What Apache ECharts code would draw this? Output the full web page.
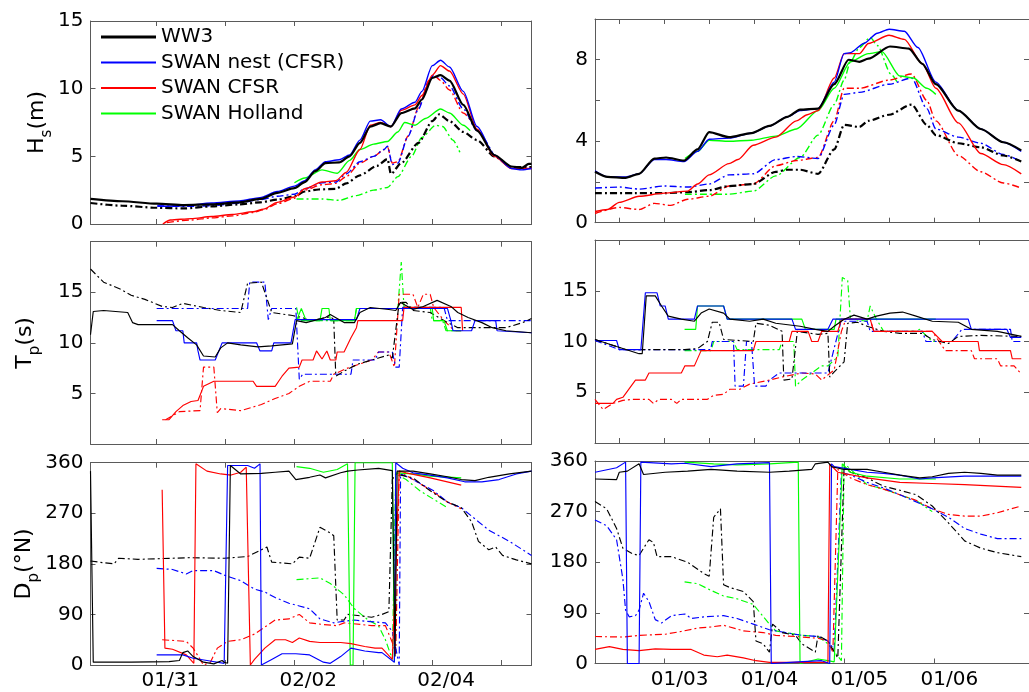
<!DOCTYPE html>
<html><head><meta charset="utf-8">
<script src="https://cdn.jsdelivr.net/npm/echarts@6/dist/echarts.min.js"></script>
<style>html,body{margin:0;padding:0;background:#fff}#c{width:1029px;height:692px}</style>
</head><body><div id="c"></div>
<script>
// ---------- tick / label values ----------
const xRangeLeft = [29.84, 36.24];      // days (Jan 29.84 .. Feb 5.24, counted as Jan days)
const xRangeRight = [2.06, 6.886];      // days of January
const xTicksLeft = [30.8, 31.8, 32.8, 33.8, 34.8, 35.8];
const xTicksRightHalf = [2.33, 2.83, 3.33, 3.83, 4.33, 4.83, 5.33, 5.83, 6.33];
const xTicksRightDay = [2.83, 3.83, 4.83, 5.83];
const xLabelsLeft = [31, 33, 35];       // 01/31, 02/02, 02/04
const xLabelsRight = [3, 4, 5, 6];      // 01/03 .. 01/06
const hsTicksLeft = [0, 5, 10, 15];
const hsTicksRight = [0, 2, 4, 6, 8, 10];
const hsLabelsRight = [0, 4, 8];
const tpTicks = [5, 10, 15];
const dpTicks = [0, 90, 180, 270, 360];
const models = ['WW3', 'SWAN nest (CFSR)', 'SWAN CFSR', 'SWAN Holland'];

// ---------- Hs, left ----------
const hsL_ww3 = [[29.84,1.85],[30.3,1.68],[30.8,1.5],[31.2,1.4],[31.6,1.45],[32.0,1.6],[32.3,1.85],[32.55,2.3],[32.8,2.65],[32.95,3.1],[33.1,3.9],[33.25,4.5],[33.45,4.55],[33.6,5.0],[33.75,6.0],[33.9,7.2],[34.05,7.45],[34.2,7.2],[34.35,8.2],[34.55,8.55],[34.65,9.2],[34.8,10.8],[34.92,11.0],[35.05,10.6],[35.25,8.8],[35.45,6.9],[35.7,5.1],[35.95,4.25],[36.1,4.15],[36.2,4.45],[36.24,4.45]];
const hsL_nest = [[30.81,1.3],[31.2,1.35],[31.6,1.55],[32.0,1.7],[32.3,1.95],[32.55,2.4],[32.8,2.8],[32.95,3.2],[33.1,4.0],[33.25,4.6],[33.45,4.75],[33.6,5.1],[33.75,6.2],[33.9,7.6],[34.05,7.7],[34.2,7.2],[34.35,8.5],[34.55,9.0],[34.65,9.8],[34.8,11.7],[34.92,12.1],[35.05,11.6],[35.25,9.8],[35.45,7.2],[35.7,5.1],[35.95,4.1],[36.1,4.0],[36.24,4.1]];
const hsL_cfsr = [[30.89,0.0],[31.0,0.3],[31.3,0.4],[31.6,0.55],[31.9,0.7],[32.2,0.9],[32.35,1.1],[32.55,1.6],[32.8,2.0],[32.95,2.6],[33.2,3.1],[33.4,3.2],[33.55,3.8],[33.75,5.5],[33.9,7.3],[34.05,7.5],[34.2,7.2],[34.35,8.4],[34.55,8.8],[34.65,9.5],[34.8,11.0],[34.92,11.7],[35.05,11.3],[35.25,9.6],[35.45,7.0],[35.7,5.0],[35.95,4.1],[36.24,4.1]];
const hsL_holl = [[32.8,3.05],[32.95,3.4],[33.2,4.0],[33.42,3.75],[33.6,4.7],[33.75,5.5],[33.95,5.9],[34.15,6.1],[34.3,6.8],[34.4,7.5],[34.55,7.3],[34.7,7.8],[34.92,8.5],[35.05,8.2],[35.25,7.3],[35.35,6.9]];
const hsL_ww3_dd = [[29.84,1.55],[30.3,1.35],[30.8,1.2],[31.2,1.15],[31.6,1.3],[32.0,1.45],[32.3,1.6],[32.55,1.8],[32.8,2.05],[32.95,2.4],[33.15,2.55],[33.4,2.6],[33.55,3.0],[33.75,3.6],[34.0,4.3],[34.15,4.8],[34.2,3.7],[34.35,4.5],[34.6,6.0],[34.8,7.6],[34.9,8.1],[35.05,7.6],[35.25,6.8],[35.45,6.2],[35.7,5.0],[35.95,4.2],[36.24,4.2]];
const hsL_nest_dd = [[30.81,1.35],[31.2,1.3],[31.6,1.35],[32.0,1.55],[32.3,1.8],[32.55,2.05],[32.8,2.2],[32.95,2.6],[33.2,3.05],[33.4,3.1],[33.55,3.7],[33.75,4.6],[33.95,5.0],[34.1,5.5],[34.15,5.75],[34.22,4.4],[34.3,4.5],[34.45,6.5],[34.6,8.5],[34.75,10.5],[34.82,11.0],[34.92,10.8],[35.05,10.2],[35.25,8.5],[35.45,6.9],[35.7,5.0]];
const hsL_cfsr_dd = [[30.95,0.1],[31.3,0.3],[31.6,0.45],[31.9,0.6],[32.2,0.85],[32.35,1.05],[32.55,1.5],[32.8,1.9],[32.95,2.5],[33.2,2.9],[33.4,3.0],[33.55,3.5],[33.75,4.5],[33.95,5.0],[34.1,5.5],[34.15,5.7],[34.22,4.5],[34.3,4.6],[34.45,6.5],[34.6,8.6],[34.75,10.6],[34.82,11.0],[34.92,10.6],[35.05,9.9],[35.25,8.2],[35.45,6.9]];
const hsL_holl_dd = [[32.83,1.85],[33.2,1.85],[33.45,1.75],[33.7,2.1],[33.95,2.5],[34.15,2.7],[34.3,3.5],[34.5,5.0],[34.65,6.4],[34.85,7.3],[34.95,7.2],[35.1,6.2],[35.2,5.3]];

// ---------- Hs, right ----------
const hsR_ww3 = [[2.06,2.5],[2.2,2.25],[2.4,2.2],[2.55,2.4],[2.72,3.15],[2.85,3.2],[3.05,3.05],[3.2,3.6],[3.33,4.45],[3.55,4.2],[3.8,4.4],[4.0,4.75],[4.2,5.2],[4.34,5.55],[4.54,5.6],[4.72,6.8],[4.88,8.0],[5.0,7.9],[5.1,8.05],[5.34,8.65],[5.55,8.55],[5.7,7.8],[5.85,6.8],[6.1,5.5],[6.35,4.6],[6.6,3.95],[6.8,3.55]];
const hsR_nest = [[2.06,2.55],[2.2,2.25],[2.4,2.25],[2.55,2.4],[2.72,3.1],[2.85,3.1],[3.05,3.0],[3.2,3.5],[3.33,4.1],[3.55,4.15],[3.8,4.4],[4.0,4.75],[4.2,5.2],[4.34,5.5],[4.54,5.6],[4.72,6.9],[4.83,8.3],[4.9,8.35],[5.05,8.8],[5.2,9.3],[5.33,9.5],[5.5,9.4],[5.65,8.6],[5.85,6.9],[6.1,5.5],[6.35,4.6],[6.6,3.95],[6.8,3.5]];
const hsR_cfsr = [[2.06,0.55],[2.2,0.65],[2.33,1.0],[2.55,1.3],[2.83,1.45],[3.09,1.55],[3.2,1.9],[3.33,2.35],[3.55,2.9],[3.65,3.1],[3.82,3.8],[4.07,4.2],[4.3,5.0],[4.42,5.3],[4.54,5.5],[4.72,7.1],[4.83,8.3],[4.92,8.3],[5.0,8.3],[5.1,8.8],[5.33,9.2],[5.5,9.0],[5.7,7.8],[5.85,6.6],[6.1,4.9],[6.35,3.4],[6.6,2.85],[6.8,2.4]];
const hsR_holl = [[3.06,3.15],[3.2,3.5],[3.33,4.05],[3.55,4.0],[3.8,4.05],[4.07,4.25],[4.3,4.6],[4.54,5.5],[4.72,6.6],[4.9,7.9],[5.1,8.3],[5.25,8.4],[5.45,7.2],[5.6,7.1],[5.75,6.6],[5.85,6.3]];
const hsR_ww3_dd = [[2.06,1.45],[2.5,1.45],[2.83,1.45],[3.09,1.5],[3.33,1.6],[3.55,1.8],[3.82,1.9],[4.07,2.5],[4.2,2.6],[4.34,2.6],[4.54,2.4],[4.72,3.6],[4.83,4.8],[5.0,4.7],[5.1,5.0],[5.33,5.3],[5.58,5.8],[5.75,4.8],[5.85,4.3],[6.1,3.9],[6.35,3.7],[6.6,3.3],[6.8,3.0]];
const hsR_nest_dd = [[2.06,1.7],[2.33,1.75],[2.55,1.65],[2.83,1.8],[3.09,1.75],[3.33,1.9],[3.55,2.35],[3.82,2.4],[4.07,3.1],[4.3,3.25],[4.54,3.15],[4.72,4.8],[4.83,6.3],[5.0,6.4],[5.33,6.8],[5.58,7.1],[5.75,5.6],[5.85,4.6],[6.1,4.2],[6.35,3.9],[6.6,3.35],[6.8,3.0]];
const hsR_cfsr_dd = [[2.06,0.45],[2.33,0.75],[2.55,0.65],[2.72,0.95],[2.9,0.85],[3.09,1.15],[3.33,1.3],[3.55,1.8],[3.82,1.9],[4.07,2.8],[4.3,3.05],[4.54,3.2],[4.72,5.0],[4.83,6.6],[5.0,6.6],[5.33,7.0],[5.58,7.3],[5.75,6.0],[5.85,5.0],[6.1,3.3],[6.35,2.5],[6.6,1.95],[6.8,1.7]];
const hsR_holl_dd = [[3.06,1.4],[3.3,1.4],[3.55,1.4],[3.82,1.55],[4.07,2.3],[4.34,3.2],[4.54,4.3],[4.72,5.8],[4.83,7.0],[4.9,7.9],[5.0,8.6],[5.12,9.1],[5.2,8.7],[5.35,7.3],[5.42,6.9]];

// ---------- Tp, left ----------
const tpL_ww3 = [[29.84,10.8],[29.88,13.1],[30.03,13.2],[30.38,13.0],[30.45,12.0],[30.53,11.8],[31.03,11.8],[31.13,11.2],[31.25,10.5],[31.38,9.8],[31.48,8.7],[31.65,8.6],[31.73,9.5],[31.83,10.0],[32.02,9.8],[32.27,9.6],[32.47,9.7],[32.77,9.9],[32.83,12.2],[32.97,12.0],[33.25,12.5],[33.32,12.8],[33.52,12.0],[33.67,12.0],[33.75,13.0],[33.9,13.5],[34.17,13.3],[34.27,13.2],[34.34,14.0],[34.52,13.3],[34.67,13.6],[34.87,14.2],[35.07,13.6],[35.17,13.0],[35.32,12.5],[35.52,12.0],[35.67,11.5],[35.87,11.2],[36.24,11.0]];
const tpL_nest = [[30.80,12.2],[31.03,12.2],[31.08,11.2],[31.18,11.2],[31.2,10.0],[31.38,10.0],[31.4,9.2],[31.43,8.3],[31.65,8.3],[31.75,10.0],[32.25,10.0],[32.3,9.2],[32.47,9.2],[32.5,10.0],[32.75,10.0],[32.81,12.3],[33.7,12.3],[33.75,13.4],[35.02,13.4],[35.07,12.2],[35.1,11.2],[35.37,11.2],[35.42,12.2],[35.72,12.2],[35.74,11.2],[36.24,11.0]];
const tpL_cfsr = [[30.88,2.4],[30.98,2.4],[31.08,3.2],[31.18,3.8],[31.3,4.2],[31.4,4.3],[31.48,5.7],[31.63,6.2],[32.2,6.2],[32.25,5.7],[32.52,5.7],[32.57,6.2],[32.62,6.7],[32.72,7.5],[32.87,7.6],[32.91,8.3],[33.07,8.3],[33.12,9.2],[33.2,8.4],[33.27,9.2],[33.32,8.3],[33.4,8.3],[33.42,9.1],[33.52,9.1],[33.62,10.5],[33.7,11.5],[33.72,12.2],[34.37,12.2],[34.39,13.5],[35.22,13.5],[35.24,11.2]];
const tpL_holl = [[32.83,12.2],[32.9,13.4],[32.97,12.2],[33.17,12.2],[33.2,13.4],[33.3,13.4],[33.32,12.2],[33.67,12.2],[33.7,13.4],[34.8,13.4],[34.82,12.2],[34.97,12.2],[35.02,11.2],[35.22,11.2]];
const tpL_ww3_dd = [[29.84,17.3],[30.03,16.0],[30.28,15.3],[30.43,14.7],[30.63,14.3],[30.88,13.6],[31.03,13.5],[31.18,13.9],[31.48,13.5],[31.73,13.2],[32.02,13.0],[32.12,15.9],[32.32,16.0],[32.47,13.0],[32.77,12.7],[32.92,12.5],[33.02,12.2],[33.27,12.5],[33.32,12.6],[33.37,12.3],[33.4,6.7],[33.52,7.2],[33.72,7.9],[34.02,8.5],[34.17,8.8],[34.22,8.5],[34.32,14.0],[34.42,14.0],[34.52,13.2],[34.77,13.0],[34.97,12.2],[35.17,11.5],[35.52,11.5],[35.87,11.5],[36.11,12.0],[36.24,12.4]];
const tpL_nest_dd = [[30.80,13.4],[32.12,13.4],[32.15,16.0],[32.37,16.0],[32.42,12.3],[32.47,13.4],[32.82,13.4],[32.87,6.4],[32.92,6.9],[33.62,6.9],[33.65,8.3],[33.97,8.3],[34.02,9.1],[34.22,9.1],[34.27,7.6],[34.32,7.6],[34.37,13.5],[34.97,13.5],[35.02,12.2],[36.24,12.2]];
const tpL_cfsr_dd = [[30.93,2.4],[31.13,3.2],[31.43,3.3],[31.48,7.6],[31.63,7.6],[31.68,3.1],[31.73,3.5],[32.02,3.3],[32.32,3.9],[32.52,4.5],[32.72,5.0],[32.87,5.7],[33.02,6.2],[33.32,6.2],[33.37,6.9],[33.57,7.5],[33.92,8.3],[34.02,9.1],[34.17,9.1],[34.25,7.6],[34.32,14.8],[34.52,14.8],[34.59,13.5],[34.67,14.8],[34.77,14.8],[34.82,13.5],[34.97,12.2],[35.12,11.2],[35.22,11.2]];
const tpL_holl_dd = [[32.83,13.5],[32.87,12.2],[33.67,12.2],[33.7,13.4],[34.3,13.4],[34.35,18.0],[34.39,13.5],[34.77,13.5],[34.8,12.2],[34.95,12.2],[35.0,11.2],[35.22,11.2]];

// ---------- Tp, right ----------
const tpR_ww3 = [[2.06,10.2],[2.30,9.5],[2.55,8.8],[2.585,8.8],[2.63,14.5],[2.73,14.5],[2.80,13.5],[2.875,12.5],[3.02,12.2],[3.165,12.0],[3.24,12.8],[3.33,13.2],[3.49,12.8],[3.56,12.2],[3.78,12.0],[3.93,12.2],[4.07,11.8],[4.34,11.5],[4.51,11.2],[4.65,11.0],[4.72,11.5],[4.83,12.2],[4.94,12.6],[5.085,12.2],[5.19,12.5],[5.34,12.8],[5.48,12.9],[5.63,12.5],[5.81,12.0],[6.10,11.9],[6.245,11.2],[6.535,11.0],[6.8,10.5]];
const tpR_nest = [[2.06,10.1],[2.30,10.1],[2.33,9.2],[2.57,9.2],[2.62,14.8],[2.75,14.8],[2.785,13.5],[2.84,13.5],[2.875,12.2],[3.165,12.2],[3.20,13.5],[3.49,13.5],[3.53,12.2],[4.25,12.2],[4.29,11.2],[4.65,11.2],[4.705,12.2],[6.21,12.2],[6.245,11.2],[6.64,11.2],[6.68,10.4],[6.8,10.4]];
const tpR_cfsr = [[2.06,3.9],[2.26,3.9],[2.30,4.3],[2.37,4.5],[2.51,6.2],[2.62,6.2],[2.66,6.9],[3.02,6.9],[3.06,7.6],[3.165,7.6],[3.24,9.1],[3.82,9.1],[3.85,10.0],[4.22,10.0],[4.25,11.0],[4.43,11.0],[4.47,10.0],[4.54,10.0],[4.58,11.0],[4.76,11.0],[4.80,12.2],[5.12,12.2],[5.16,11.0],[5.81,11.0],[5.92,10.0],[6.32,10.0],[6.335,9.1],[6.68,9.1],[6.70,8.3],[6.8,8.3]];
const tpR_holl = [[3.056,11.2],[3.18,11.2],[3.20,13.5],[3.49,13.5],[3.53,12.2],[4.36,12.2],[4.40,11.2],[4.72,11.2],[4.74,12.2],[5.85,12.2]];
const tpR_ww3_dd = [[2.06,10.2],[2.40,9.2],[3.056,9.2],[3.20,9.3],[3.31,10.0],[3.364,11.9],[3.44,11.9],[3.49,10.2],[3.82,10.0],[3.85,11.8],[4.0,11.6],[4.14,11.0],[4.16,6.2],[4.25,6.3],[4.31,11.0],[4.54,10.7],[4.65,10.8],[4.67,6.5],[4.72,7.0],[4.83,8.0],[4.87,11.8],[4.98,11.9],[5.085,11.5],[5.27,11.0],[5.45,10.8],[5.70,10.8],[5.81,10.2],[5.99,9.8],[6.10,10.5],[6.35,10.6],[6.8,10.5]];
const tpR_nest_dd = [[2.06,10.1],[2.33,9.2],[3.346,9.2],[3.364,10.0],[3.60,10.0],[3.618,5.6],[3.71,5.6],[3.745,10.0],[3.80,10.0],[3.835,5.6],[3.96,5.6],[4.0,6.2],[4.11,6.9],[4.65,6.9],[4.796,12.0],[5.085,12.0],[5.12,11.0],[5.70,11.0],[5.74,10.0],[6.03,10.0],[6.14,11.2],[6.68,11.2],[6.70,10.0],[6.8,10.0]];
const tpR_cfsr_dd = [[2.06,4.3],[2.15,3.3],[2.26,3.9],[2.37,4.2],[2.48,4.3],[2.66,4.3],[2.71,3.9],[2.77,4.3],[2.91,4.3],[2.97,3.9],[3.02,4.3],[3.31,4.3],[3.38,4.7],[3.49,4.8],[3.56,5.3],[3.67,5.3],[3.78,5.8],[4.0,6.2],[4.14,6.5],[4.36,6.9],[4.51,6.8],[4.58,6.2],[4.72,7.2],[4.80,11.0],[4.85,12.2],[5.12,12.2],[5.16,11.0],[5.81,11.0],[5.955,9.1],[6.245,9.1],[6.28,8.3],[6.535,8.3],[6.57,7.6],[6.72,7.6],[6.8,6.8]];
const tpR_holl_dd = [[3.056,9.1],[3.35,9.1],[3.38,10.0],[3.60,10.0],[3.64,9.2],[4.11,9.2],[4.14,10.0],[4.27,10.0],[4.29,5.6],[4.36,6.2],[4.47,6.9],[4.58,7.6],[4.65,7.6],[4.76,8.5],[4.81,16.3],[4.87,16.0],[4.90,12.2],[5.085,12.0],[5.12,13.5],[5.19,12.2],[5.27,11.0],[5.63,11.0],[5.67,11.2],[5.81,10.0],[5.85,10.0]];

// ---------- Dp, left ----------
const dpL_ww3 = [[29.84,345],[29.88,5],[30.43,5],[30.45,7],[30.98,6],[31.13,8],[31.18,22],[31.25,25],[31.33,15],[31.48,5],[31.63,2],[31.75,8],[31.78,5],[31.83,3],[31.87,355],[32.02,340],[32.32,341],[32.52,343],[32.72,345],[32.82,330],[33.02,334],[33.17,338],[33.25,333],[33.47,342],[33.57,345],[33.72,347],[34.02,350],[34.22,346],[34.26,15],[34.29,345],[34.52,345],[34.77,340],[35.02,335],[35.22,330],[35.42,328],[35.62,334],[35.92,340],[36.24,345]];
const dpL_nest = [[30.80,18],[31.18,18],[31.33,12],[31.53,8],[31.78,3],[31.83,355],[32.12,355],[32.22,350],[32.30,358],[32.32,0],[32.47,10],[32.62,20],[32.82,20],[33.02,18],[33.22,5],[33.32,3],[33.47,15],[33.62,30],[33.82,25],[34.02,22],[34.07,22],[34.25,5],[34.27,360],[34.37,350],[34.52,342],[34.77,338],[35.02,333],[35.27,326],[35.52,326],[35.77,330],[36.02,340],[36.24,345]];
const dpL_cfsr = [[30.88,312],[30.92,30],[31.03,28],[31.23,18],[31.34,3],[31.37,358],[31.53,345],[31.73,340],[31.88,338],[32.02,343],[32.10,352],[32.16,0],[32.22,10],[32.37,30],[32.52,45],[32.67,45],[32.77,40],[32.87,48],[33.02,42],[33.17,40],[33.47,40],[33.62,38],[33.82,33],[33.97,30],[34.07,30],[34.22,10],[34.32,345],[34.42,342],[34.77,333],[35.22,320]];
const dpL_holl = [[32.83,353],[33.02,350],[33.22,343],[33.42,348],[33.57,358],[33.61,0],[33.65,0],[33.68,360],[34.22,360],[34.25,5],[34.27,342],[34.52,340],[34.77,336],[35.22,333]];
const dpL_ww3_dd = [[29.84,185],[30.03,182],[30.18,180],[30.25,190],[30.53,188],[31.03,190],[31.28,191],[31.78,190],[32.12,193],[32.32,205],[32.40,210],[32.47,183],[32.77,180],[32.87,192],[33.02,190],[33.17,245],[33.32,235],[33.37,230],[33.42,80],[33.52,80],[33.57,90],[33.72,88],[33.92,85],[34.07,90],[34.17,95],[34.22,330],[34.27,340],[34.52,333],[34.77,310],[35.02,290],[35.22,280],[35.37,255],[35.47,220],[35.62,205],[35.72,210],[35.82,195],[36.02,187],[36.24,180]];
const dpL_nest_dd = [[30.80,172],[31.03,170],[31.23,162],[31.33,168],[31.63,168],[31.78,160],[32.02,150],[32.22,135],[32.37,130],[32.52,120],[32.72,110],[32.87,105],[33.02,100],[33.17,82],[33.37,75],[33.52,78],[33.67,80],[33.82,78],[34.12,75],[34.22,60],[34.32,0],[34.34,340],[34.52,330],[34.82,310],[35.02,290],[35.22,280],[35.42,260],[35.62,240],[35.92,220],[36.24,195]];
const dpL_cfsr_dd = [[30.88,45],[31.23,42],[31.33,30],[31.48,0],[31.58,5],[31.68,30],[31.83,42],[32.02,45],[32.22,55],[32.52,80],[32.72,82],[32.87,90],[33.02,75],[33.22,72],[33.42,70],[33.52,75],[33.77,72],[33.92,70],[34.12,70],[34.22,40],[34.27,20],[34.32,345],[34.52,330],[34.77,312],[35.02,290],[35.22,278]];
const dpL_holl_dd = [[32.83,152],[33.17,155],[33.32,145],[33.52,125],[33.67,100],[33.87,80],[34.02,70],[34.12,45],[34.22,10],[34.27,340],[34.42,330],[34.62,310],[35.02,280]];

// ---------- Dp, right ----------
const dpR_ww3 = [[2.06,328],[2.30,327],[2.33,340],[2.42,342],[2.55,355],[2.60,336],[2.84,340],[3.09,342],[3.35,345],[3.64,342],[4.0,340],[4.22,342],[4.47,345],[4.51,355],[4.65,358],[4.69,350],[4.83,345],[5.085,345],[5.27,340],[5.45,335],[5.67,330],[5.81,332],[5.99,338],[6.17,340],[6.35,338],[6.535,335],[6.8,335]];
const dpR_nest = [[2.06,340],[2.30,348],[2.40,358],[2.42,0],[2.55,0],[2.57,358],[2.91,355],[3.06,356],[3.35,350],[3.64,355],[4.0,357],[4.02,0],[4.32,3],[4.58,5],[4.67,0],[4.69,355],[4.72,350],[4.90,345],[5.085,340],[5.27,338],[5.45,335],[5.67,328],[5.81,330],[6.17,333],[6.8,333]];
const dpR_cfsr = [[2.06,25],[2.22,30],[2.37,25],[2.55,23],[2.73,26],[2.91,25],[3.13,25],[3.27,15],[3.42,12],[3.53,15],[3.71,10],[3.85,5],[4.0,2],[4.29,2],[4.65,2],[4.67,355],[4.76,340],[5.085,330],[5.45,322],[5.81,320],[6.17,318],[6.8,313]];
const dpR_holl = [[3.056,358],[3.38,355],[3.64,353],[4.0,355],[4.32,358],[4.34,0],[4.54,8],[4.65,5],[4.72,3],[4.81,355],[4.90,340],[5.085,333],[5.45,328],[5.85,328]];
const dpR_ww3_dd = [[2.06,288],[2.19,275],[2.30,240],[2.37,205],[2.48,195],[2.55,192],[2.62,210],[2.66,220],[2.71,215],[2.75,190],[2.91,190],[3.09,180],[3.27,160],[3.33,155],[3.38,260],[3.455,275],[3.49,140],[3.56,135],[3.71,128],[3.82,110],[3.85,40],[3.93,35],[4.0,20],[4.035,70],[4.14,55],[4.29,50],[4.36,35],[4.51,20],[4.54,50],[4.65,40],[4.76,10],[4.83,350],[4.90,340],[5.085,330],[5.27,315],[5.45,308],[5.63,300],[5.81,280],[5.99,250],[6.17,218],[6.35,205],[6.535,197],[6.8,190]];
const dpR_nest_dd = [[2.06,255],[2.19,245],[2.30,220],[2.37,150],[2.40,95],[2.44,83],[2.51,85],[2.55,95],[2.60,125],[2.66,110],[2.73,78],[2.80,72],[2.91,85],[3.06,88],[3.13,80],[3.27,83],[3.49,85],[3.64,80],[3.82,70],[4.0,60],[4.18,55],[4.36,50],[4.54,48],[4.65,40],[4.72,25],[4.80,340],[4.90,335],[5.085,322],[5.27,312],[5.45,300],[5.81,275],[5.99,260],[6.17,240],[6.35,230],[6.535,222],[6.8,222]];
const dpR_cfsr_dd = [[2.06,48],[2.37,47],[2.55,50],[2.84,52],[3.02,57],[3.20,63],[3.35,65],[3.49,68],[3.71,58],[3.93,55],[4.07,50],[4.29,48],[4.54,45],[4.65,40],[4.705,20],[4.76,345],[4.90,330],[5.085,318],[5.27,310],[5.45,300],[5.63,290],[5.81,275],[5.99,265],[6.17,262],[6.35,262],[6.535,268],[6.8,280]];
const dpR_holl_dd = [[3.056,145],[3.20,142],[3.35,130],[3.49,120],[3.64,115],[3.82,105],[4.0,70],[4.07,58],[4.36,50],[4.54,48],[4.65,35],[4.80,5],[4.83,355],[4.87,350],[5.085,318],[5.27,310],[5.45,300],[5.63,290],[5.81,270]];

// ---------- chart ----------
const FONT = 'DejaVu Sans';
const AX = '#5a5a5a';
const COLORS = {ww3:'#000000', nest:'#0000ff', cfsr:'#ff0000', holl:'#00ff00'};
const NAMES = {ww3:models[0], nest:models[1], cfsr:models[2], holl:models[3]};
const DASHDOT = [7, 3, 2, 3];

const grids = [
  {left:90.5, top:21, width:441, height:203},
  {left:595, top:19, width:445, height:203.7},
  {left:90.5, top:241.7, width:441, height:202.3},
  {left:595, top:240, width:445, height:203},
  {left:90.5, top:462.7, width:441, height:202.3},
  {left:595, top:461, width:445, height:202.5}
];

const richBase = {fontFamily:FONT, fontSize:22, color:'#000', lineHeight:26};
const subStyle = {fontFamily:FONT, fontSize:15, color:'#000', verticalAlign:'bottom', lineHeight:34};
const yDefs = [
  {min:0, max:15, ticks:hsTicksLeft, labels:hsTicksLeft, name:'{a|H}{b|s}{a|(m)}', gap:36},
  {min:0, max:10, ticks:hsTicksRight, labels:hsLabelsRight},
  {min:0, max:20, ticks:tpTicks, labels:tpTicks, name:'{a|T}{b|p}{a|(s)}', gap:48},
  {min:0, max:20, ticks:tpTicks, labels:tpTicks},
  {min:0, max:360, ticks:dpTicks, labels:dpTicks, name:'{a|D}{b|p}{a|(°N)}', gap:46},
  {min:0, max:360, ticks:dpTicks, labels:dpTicks}
];

const xAxis = [], yAxis = [];
grids.forEach((g, i) => {
  const right = i % 2 === 1, bottomRow = i >= 4;
  const ticks = right ? (bottomRow ? xTicksRightDay : xTicksRightHalf) : xTicksLeft;
  const rng = right ? xRangeRight : xRangeLeft;
  const mk = (pos, showLabel) => ({
    type:'value', gridIndex:i, position:pos, min:rng[0], max:rng[1],
    splitLine:{show:false},
    axisLine:{show:true, onZero:false, lineStyle:{color:AX, width:1}},
    axisTick:{show:true, inside:true, length:5, customValues:ticks, lineStyle:{color:AX, width:1}},
    axisLabel: showLabel ? {
      show:true, customValues: right ? xLabelsRight : xLabelsLeft,
      formatter: v => right ? ('01/' + String(Math.round(v)).padStart(2,'0'))
                            : (v < 31.5 ? '01/31' : '02/' + String(Math.round(v - 31)).padStart(2,'0')),
      fontFamily:FONT, fontSize:20, color:'#000', margin:6
    } : {show:false}
  });
  xAxis.push(mk('bottom', bottomRow));
  xAxis.push(mk('top', false));
  const d = yDefs[i];
  const mky = (pos, showLabel) => {
    const o = {
      type:'value', gridIndex:i, position:pos, min:d.min, max:d.max,
      splitLine:{show:false},
      axisLine:{show:true, onZero:false, lineStyle:{color:AX, width:1}},
      axisTick:{show:true, inside:true, length:5, customValues:d.ticks, lineStyle:{color:AX, width:1}},
      axisLabel: showLabel ? {show:true, customValues:d.labels, fontFamily:FONT, fontSize:20, color:'#000', margin:7} : {show:false}
    };
    if (showLabel && d.name) {
      o.name = d.name; o.nameLocation = 'middle'; o.nameRotate = 90; o.nameGap = d.gap;
      o.nameTextStyle = {rich:{a:richBase, b:subStyle}};
    }
    return o;
  };
  yAxis.push(mky('left', true));
  yAxis.push(mky('right', false));
});

const panels = [
  {ww3:hsL_ww3, nest:hsL_nest, cfsr:hsL_cfsr, holl:hsL_holl, ww3_dd:hsL_ww3_dd, nest_dd:hsL_nest_dd, cfsr_dd:hsL_cfsr_dd, holl_dd:hsL_holl_dd},
  {ww3:hsR_ww3, nest:hsR_nest, cfsr:hsR_cfsr, holl:hsR_holl, ww3_dd:hsR_ww3_dd, nest_dd:hsR_nest_dd, cfsr_dd:hsR_cfsr_dd, holl_dd:hsR_holl_dd},
  {ww3:tpL_ww3, nest:tpL_nest, cfsr:tpL_cfsr, holl:tpL_holl, ww3_dd:tpL_ww3_dd, nest_dd:tpL_nest_dd, cfsr_dd:tpL_cfsr_dd, holl_dd:tpL_holl_dd},
  {ww3:tpR_ww3, nest:tpR_nest, cfsr:tpR_cfsr, holl:tpR_holl, ww3_dd:tpR_ww3_dd, nest_dd:tpR_nest_dd, cfsr_dd:tpR_cfsr_dd, holl_dd:tpR_holl_dd},
  {ww3:dpL_ww3, nest:dpL_nest, cfsr:dpL_cfsr, holl:dpL_holl, ww3_dd:dpL_ww3_dd, nest_dd:dpL_nest_dd, cfsr_dd:dpL_cfsr_dd, holl_dd:dpL_holl_dd},
  {ww3:dpR_ww3, nest:dpR_nest, cfsr:dpR_cfsr, holl:dpR_holl, ww3_dd:dpR_ww3_dd, nest_dd:dpR_nest_dd, cfsr_dd:dpR_cfsr_dd, holl_dd:dpR_holl_dd}
];

const series = [];
panels.forEach((p, i) => {
  const hs = i < 2;
  const order = ['holl_dd','cfsr_dd','nest_dd','ww3_dd','holl','cfsr','nest','ww3'];
  order.forEach(k => {
    const m = k.replace('_dd','');
    const dd = k.endsWith('_dd');
    const w = hs ? (m === 'ww3' ? 2.2 : 1.4) : 1.15;
    series.push({
      type:'line', name: dd ? NAMES[m] + ' (dash-dot)' : NAMES[m],
      xAxisIndex: i*2, yAxisIndex: i*2, data: p[k],
      symbol:'none', showSymbol:false,
      smooth: hs ? 0.25 : false, smoothMonotone: hs ? 'x' : undefined,
      animation:false, silent:true,
      z: dd ? 2 : 3,
      lineStyle:{color:COLORS[m], width:w, type: dd ? DASHDOT : 'solid'},
      itemStyle:{color:COLORS[m]}
    });
  });
});

const legendData = models.map((n, j) => ({
  name: n,
  icon: j === 0 ? 'path://M0,0H55V3H0Z' : 'path://M0,0H55V2H0Z'
}));

const chart = echarts.init(document.getElementById('c'), null, {renderer:'canvas'});
chart.setOption({
  animation:false,
  backgroundColor:'#ffffff',
  grid: grids,
  xAxis, yAxis, series,
  legend: {
    data: legendData, orient:'vertical', left:101, top:27, padding:0,
    itemWidth:55, itemHeight:14, itemGap:5.5, selectedMode:false,
    textStyle:{fontFamily:FONT, fontSize:20, color:'#000', lineHeight:20}
  }
});
</script>
</body></html>
